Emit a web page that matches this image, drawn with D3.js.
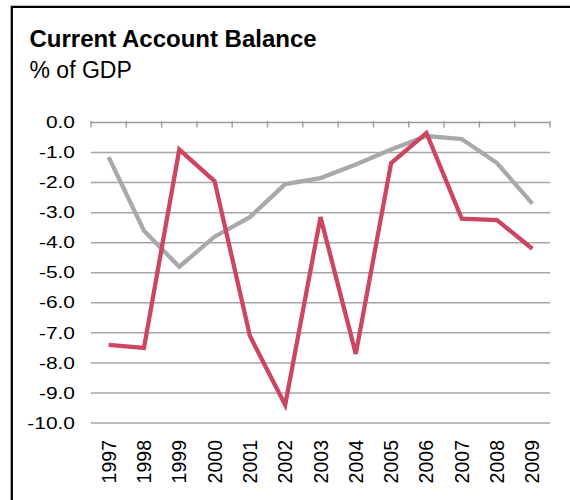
<!DOCTYPE html>
<html>
<head>
<meta charset="utf-8">
<script src="https://cdn.jsdelivr.net/npm/d3@7"></script>
<style>
  html, body { margin: 0; padding: 0; background: #fff; }
  svg { display: block; font-family: "Liberation Sans", Arial, sans-serif; }
</style>
</head>
<body>
<svg id="chart" width="570" height="500"></svg>
<script>
const years = ["1997","1998","1999","2000","2001","2002","2003","2004","2005","2006","2007","2008","2009"];
const seriesRed  = [-7.4, -7.5, -0.9, -1.95, -7.1, -9.4, -3.15, -7.7, -1.35, -0.35, -3.2, -3.25, -4.2];
const seriesGray = [-1.15, -3.6, -4.8, -3.8, -3.15, -2.05, -1.85, -1.4, -0.9, -0.45, -0.55, -1.35, -2.7];
const yTicks = [0, -1, -2, -3, -4, -5, -6, -7, -8, -9, -10];
const titleText = "Current Account Balance";
const subtitleText = "% of GDP";

const svg = d3.select("#chart");

// frame
svg.append("path")
  .attr("d", "M11.8,500 L11.8,6.8 L570,6.8")
  .attr("fill", "none").attr("stroke", "#000").attr("stroke-width", 2.3);

svg.append("text").attr("x", 29.5).attr("y", 46.7)
  .attr("font-size", 24).attr("font-weight", "bold").attr("fill", "#000")
  .text(titleText);
svg.append("text").attr("x", 29.5).attr("y", 78.2)
  .attr("font-size", 23).attr("fill", "#000")
  .text(subtitleText);

const x = d3.scaleBand().domain(years).range([91, 550]);
const y = d3.scaleLinear().domain([-10, 0]).range([423, 122.5]);

// gridlines
svg.append("g").selectAll("line").data(yTicks.filter(d => d !== 0)).join("line")
  .attr("x1", 91).attr("x2", 550)
  .attr("y1", d => y(d)).attr("y2", d => y(d))
  .attr("stroke", "#a6a6a6").attr("stroke-width", 1.5);

// zero axis with ticks at band boundaries
svg.append("line").attr("x1", 91).attr("x2", 550).attr("y1", y(0)).attr("y2", y(0))
  .attr("stroke", "#9c9c9c").attr("stroke-width", 1.4);
const bounds = years.map(d => x(d)).concat([x.range()[1]]);
svg.append("g").selectAll("line").data(bounds).join("line")
  .attr("x1", d => d).attr("x2", d => d)
  .attr("y1", y(0) - 1.5).attr("y2", y(0) + 5)
  .attr("stroke", "#9c9c9c").attr("stroke-width", 1.4);

// y labels (slightly wide glyphs as in the reference)
svg.append("g").selectAll("text").data(yTicks).join("text")
  .attr("transform", d => `translate(75,${y(d)}) scale(1.27,1)`)
  .attr("text-anchor", "end").attr("dominant-baseline", "central")
  .attr("font-size", 16.5).attr("fill", "#000")
  .text(d => d3.format(".1f")(d).replace("−", "-"));

// x labels rotated
svg.append("g").selectAll("text").data(years).join("text")
  .attr("transform", d => `translate(${x(d) + x.bandwidth() / 2},440) rotate(-90)`)
  .attr("text-anchor", "end").attr("dominant-baseline", "central")
  .attr("font-size", 19.5).attr("fill", "#000")
  .text(d => d);

const line = d3.line()
  .x((d, i) => x(years[i]) + x.bandwidth() / 2)
  .y(d => y(d));

svg.append("path").datum(seriesGray).attr("d", line)
  .attr("fill", "none").attr("stroke", "#a7a9ac").attr("stroke-width", 4.3);
svg.append("path").datum(seriesRed).attr("d", line)
  .attr("fill", "none").attr("stroke", "#cc4662").attr("stroke-width", 4.3);
</script>
</body>
</html>
